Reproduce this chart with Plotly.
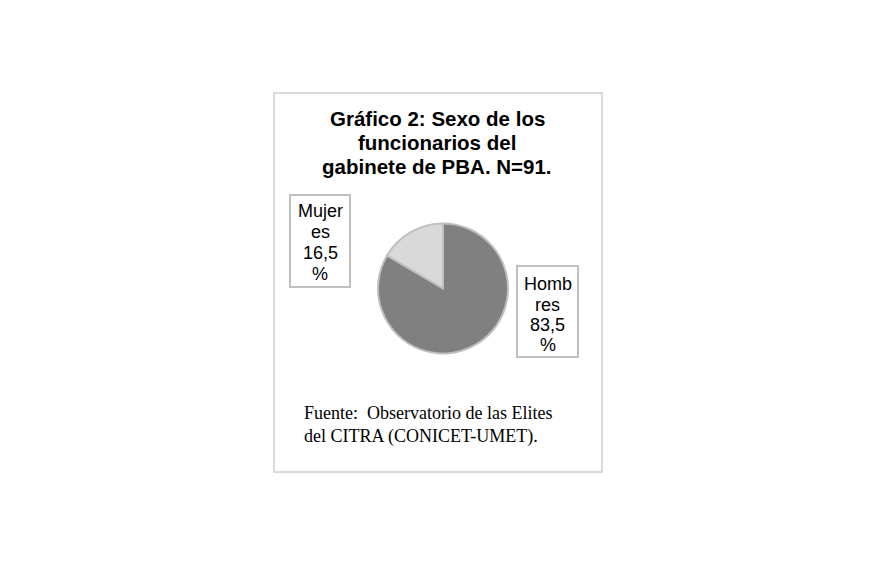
import plotly.graph_objects as go

# datos del gráfico
sexo = ["Hombres", "Mujeres"]
porcentaje = [83.5, 16.5]
colores = ["#808080", "#d9d9d9"]
etiqueta_mujeres = ["Mujer", "es", "16,5", "%"]
etiqueta_hombres = ["Homb", "res", "83,5", "%"]
titulo = ["Gráfico 2: Sexo de los", "funcionarios del", "gabinete de PBA. N=91."]
fuente = ["Fuente:  Observatorio de las Elites", "del CITRA (CONICET-UMET)."]

W, H = 876, 564

def px(x):
    return x / W

def py(y):
    return 1 - y / H

sans = "Arial, Liberation Sans, sans-serif"
serif = "Times New Roman, Liberation Serif, serif"

fig = go.Figure()
fig.add_trace(go.Pie(
    labels=sexo,
    values=porcentaje,
    sort=False,
    direction="clockwise",
    rotation=0,
    textinfo="none",
    hoverinfo="label+percent",
    marker=dict(colors=colores, line=dict(color="#bfbfbf", width=2)),
    domain=dict(x=[px(378), px(508)], y=[py(353.5), py(223.5)]),
    showlegend=False,
))

# marco exterior
fig.add_shape(type="rect", xref="paper", yref="paper",
              x0=px(274), x1=px(602), y0=py(472), y1=py(93),
              line=dict(color="#d9d9d9", width=2), fillcolor="white", layer="below")

def linea(txt, x, base, size, family, anchor="center", bold=False):
    if bold:
        txt = "<b>" + txt + "</b>"
    fig.add_annotation(text=txt, xref="paper", yref="paper",
                       x=px(x), y=py(base - 0.33 * size), xanchor=anchor, yanchor="middle",
                       showarrow=False, borderpad=0,
                       font=dict(family=family, size=size, color="black"))

# título
for t, b in zip(titulo, [125, 149, 173]):
    linea(t, 437, b, 20.5, sans, bold=True)

# recuadros de las etiquetas
for x0, x1, y0, y1 in [(290, 350, 195, 287), (517, 578, 266, 357)]:
    fig.add_shape(type="rect", xref="paper", yref="paper",
                  x0=px(x0), x1=px(x1), y0=py(y1), y1=py(y0),
                  line=dict(color="#bfbfbf", width=2), fillcolor="white")

for t, b in zip(etiqueta_mujeres, [217, 238, 259, 279.5]):
    linea(t, 320, b, 18, sans)
for t, b in zip(etiqueta_hombres, [290, 310.5, 330.5, 350.5]):
    linea(t, 547.5, b, 18, sans)

# fuente
for t, b in zip(fuente, [418.5, 442.5]):
    linea(t, 303, b, 18, serif, anchor="left")

fig.update_layout(width=W, height=H, margin=dict(l=0, r=0, t=0, b=0),
                  paper_bgcolor="white", plot_bgcolor="white")

fig.write_html("out.html", config={"displayModeBar": False},
               post_script="document.body.style.margin='0';")
